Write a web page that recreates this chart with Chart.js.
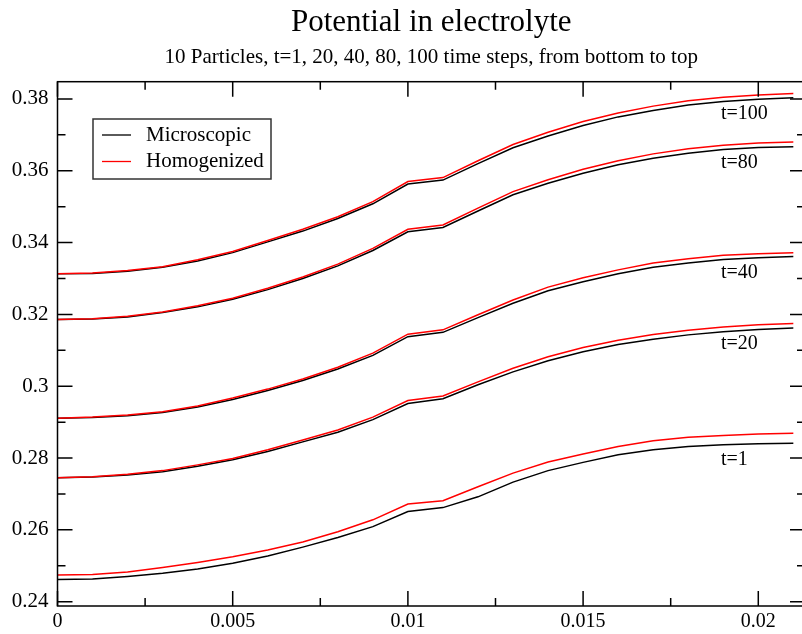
<!DOCTYPE html>
<html>
<head>
<meta charset="utf-8">
<script src="https://cdn.jsdelivr.net/npm/chart.js@4/dist/chart.umd.min.js"></script>
<style>
  html, body { margin: 0; padding: 0; background: #fff; overflow: hidden; }
  #wrap { width: 808px; height: 634px; }
</style>
</head>
<body>
<div id="wrap"><canvas id="potentialChart"></canvas></div>
<script>
// x positions (same for every curve)
const xValues = [0, 0.001, 0.002, 0.003, 0.004, 0.005, 0.006, 0.007, 0.008, 0.009, 0.010,
  0.011, 0.012, 0.013, 0.014, 0.015, 0.016, 0.017, 0.018, 0.019, 0.020, 0.021]

const curveNames = ["t=1", "t=20", "t=40", "t=80", "t=100"]

// Microscopic (black)
const micro_t1 = [0.2462, 0.2463, 0.2470, 0.2479, 0.2491, 0.2507, 0.2527, 0.2552, 0.2579, 0.2609, 0.2651,
  0.2662, 0.2692, 0.2733, 0.2765, 0.2788, 0.2809, 0.2823, 0.2832, 0.2837, 0.2840, 0.2841]
const micro_t20 = [0.2745, 0.2747, 0.2753, 0.2762, 0.2777, 0.2795, 0.2818, 0.2845, 0.2872, 0.2907, 0.2952,
  0.2965, 0.3004, 0.3040, 0.3071, 0.3096, 0.3116, 0.3131, 0.3143, 0.3152, 0.3158, 0.3162]
const micro_t40 = [0.2911, 0.2913, 0.2918, 0.2927, 0.2942, 0.2963, 0.2988, 0.3016, 0.3048, 0.3086, 0.3138,
  0.3150, 0.3191, 0.3231, 0.3266, 0.3291, 0.3313, 0.3331, 0.3343, 0.3353, 0.3358, 0.3361]
const micro_t80 = [0.3186, 0.3187, 0.3193, 0.3205, 0.3221, 0.3242, 0.3269, 0.3300, 0.3335, 0.3378, 0.3430,
  0.3442, 0.3488, 0.3533, 0.3565, 0.3593, 0.3617, 0.3635, 0.3649, 0.3659, 0.3665, 0.3667]
const micro_t100 = [0.3313, 0.3314, 0.3320, 0.3331, 0.3349, 0.3372, 0.3402, 0.3432, 0.3467, 0.3508, 0.3563,
  0.3574, 0.3620, 0.3664, 0.3697, 0.3726, 0.3750, 0.3768, 0.3783, 0.3793, 0.3799, 0.3803]

// Homogenized (red)
const homog_t1 = [0.2474, 0.2476, 0.2483, 0.2495, 0.2509, 0.2525, 0.2544, 0.2566, 0.2595, 0.2628, 0.2672,
  0.2681, 0.2720, 0.2758, 0.2789, 0.2811, 0.2832, 0.2848, 0.2858, 0.2863, 0.2867, 0.2869]
const homog_t20 = [0.2745, 0.2748, 0.2755, 0.2765, 0.2781, 0.2799, 0.2823, 0.2850, 0.2878, 0.2914, 0.2960,
  0.2973, 0.3012, 0.3050, 0.3082, 0.3108, 0.3128, 0.3144, 0.3156, 0.3165, 0.3171, 0.3175]
const homog_t40 = [0.2911, 0.2914, 0.2920, 0.2929, 0.2945, 0.2967, 0.2992, 0.3020, 0.3053, 0.3092, 0.3145,
  0.3157, 0.3199, 0.3240, 0.3276, 0.3302, 0.3324, 0.3343, 0.3355, 0.3365, 0.3369, 0.3372]
const homog_t80 = [0.3186, 0.3188, 0.3195, 0.3207, 0.3224, 0.3245, 0.3273, 0.3304, 0.3340, 0.3384, 0.3437,
  0.3449, 0.3496, 0.3542, 0.3575, 0.3604, 0.3628, 0.3647, 0.3661, 0.3671, 0.3677, 0.3680]
const homog_t100 = [0.3313, 0.3315, 0.3322, 0.3333, 0.3352, 0.3375, 0.3406, 0.3437, 0.3472, 0.3514, 0.3570,
  0.3581, 0.3628, 0.3673, 0.3707, 0.3737, 0.3761, 0.3780, 0.3795, 0.3805, 0.3811, 0.3815]

const microSeries = [micro_t1, micro_t20, micro_t40, micro_t80, micro_t100]
const homogSeries = [homog_t1, homog_t20, homog_t40, homog_t80, homog_t100]

const FONT = "'Liberation Serif', 'Times New Roman', serif"

const toPoints = arr => arr.map((y, i) => ({ x: xValues[i], y: y }))

const datasets = []
microSeries.forEach((s, i) => {
  datasets.push({ label: "Microscopic", curve: curveNames[i], data: toPoints(s), borderColor: "#000000", order: 2 })
})
homogSeries.forEach((s, i) => {
  datasets.push({ label: "Homogenized", curve: curveNames[i], data: toPoints(s), borderColor: "#ff0000", order: 1 })
})

// frame + inward ticks on all four sides, xmgrace style
const frameTicks = {
  id: "frameTicks",
  afterDraw(chart) {
    const { ctx, chartArea: a, scales: { x, y } } = chart
    ctx.save()
    ctx.strokeStyle = "#000"
    ctx.lineWidth = 1.5
    ctx.strokeRect(a.left, a.top, a.right - a.left, a.bottom - a.top)
    const major = 15, minor = 8
    const xStep = 0.005, yStep = 0.02
    ctx.beginPath()
    for (let v = 0; v <= x.max + 1e-9; v += xStep / 2) {
      const px = x.getPixelForValue(v)
      const len = Math.abs(v / xStep - Math.round(v / xStep)) < 1e-6 ? major : minor
      ctx.moveTo(px, a.bottom); ctx.lineTo(px, a.bottom - len)
      ctx.moveTo(px, a.top); ctx.lineTo(px, a.top + len)
    }
    for (let v = 0.23; v <= y.max + 1e-9; v += yStep / 2) {
      if (v < y.min) continue
      const py = y.getPixelForValue(v)
      const len = Math.abs((v - 0.24) / yStep - Math.round((v - 0.24) / yStep)) < 1e-6 ? major : minor
      ctx.moveTo(a.left, py); ctx.lineTo(a.left + len, py)
      ctx.moveTo(a.right, py); ctx.lineTo(a.right - len, py)
    }
    ctx.stroke()
    ctx.restore()
  }
}

// curve names next to each pair and the boxed legend
const annotations = {
  id: "annotations",
  afterDatasetsDraw(chart) {
    const { ctx, scales: { x, y } } = chart
    ctx.save()
    ctx.font = "20px " + FONT
    ctx.fillStyle = "#000"
    ctx.textBaseline = "middle"
    ctx.textAlign = "left"
    microSeries.forEach((s, i) => {
      const py = y.getPixelForValue(s[s.length - 1]) + 16
      ctx.fillText(curveNames[i], 721, py)
    })

    // legend
    const items = [
      { text: "Microscopic", color: "#000000" },
      { text: "Homogenized", color: "#ff0000" }
    ]
    ctx.font = "21px " + FONT
    ctx.fillStyle = "#fff"
    ctx.fillRect(93, 119, 178, 60)
    ctx.strokeStyle = "#333"
    ctx.lineWidth = 1.5
    ctx.strokeRect(93, 119, 178, 60)
    items.forEach((it, i) => {
      const ly = 135 + i * 26.5
      ctx.strokeStyle = it.color
      ctx.lineWidth = 1.3
      ctx.beginPath()
      ctx.moveTo(102, ly); ctx.lineTo(131, ly)
      ctx.stroke()
      ctx.fillStyle = "#000"
      ctx.fillText(it.text, 146, ly)
    })
    ctx.restore()
  }
}

const config = {
  type: "line",
  data: { datasets: datasets },
  options: {
    responsive: true,
    maintainAspectRatio: false,
    animation: false,
    layout: { padding: { left: 0, right: 3, top: 0, bottom: 0 } },
    elements: {
      line: { borderWidth: 1.5, tension: 0, fill: false },
      point: { radius: 0 }
    },
    scales: {
      x: {
        type: "linear",
        min: 0,
        max: 0.021333,
        afterFit: scale => { scale.height = 28 },
        grid: { display: false, drawTicks: false },
        border: { display: false },
        ticks: {
          stepSize: 0.005,
          includeBounds: false,
          padding: 4,
          color: "#000",
          font: { family: FONT, size: 20 },
          maxRotation: 0,
          callback: v => parseFloat(v.toFixed(4)).toString()
        }
      },
      y: {
        min: 0.2388,
        max: 0.3848,
        afterFit: scale => { scale.width = 57.5 },
        grid: { display: false, drawTicks: false },
        border: { display: false },
        ticks: {
          stepSize: 0.02,
          includeBounds: false,
          padding: 9,
          color: "#000",
          font: { family: FONT, size: 21 },
          callback: v => parseFloat(v.toFixed(3)).toString()
        }
      }
    },
    plugins: {
      legend: { display: false },
      tooltip: { enabled: false },
      title: {
        display: true,
        fullSize: false,
        text: "Potential in electrolyte",
        color: "#000",
        font: { family: FONT, size: 31, weight: "normal" },
        padding: { top: 4.4, bottom: 2.8 }
      },
      subtitle: {
        display: true,
        fullSize: false,
        text: "10 Particles, t=1, 20, 40, 80, 100 time steps, from bottom to top",
        color: "#000",
        font: { family: FONT, size: 21, weight: "normal" },
        padding: { top: 0, bottom: 12.1 }
      }
    }
  },
  plugins: [frameTicks, annotations]
}

new Chart(document.getElementById("potentialChart"), config)
</script>
</body>
</html>
